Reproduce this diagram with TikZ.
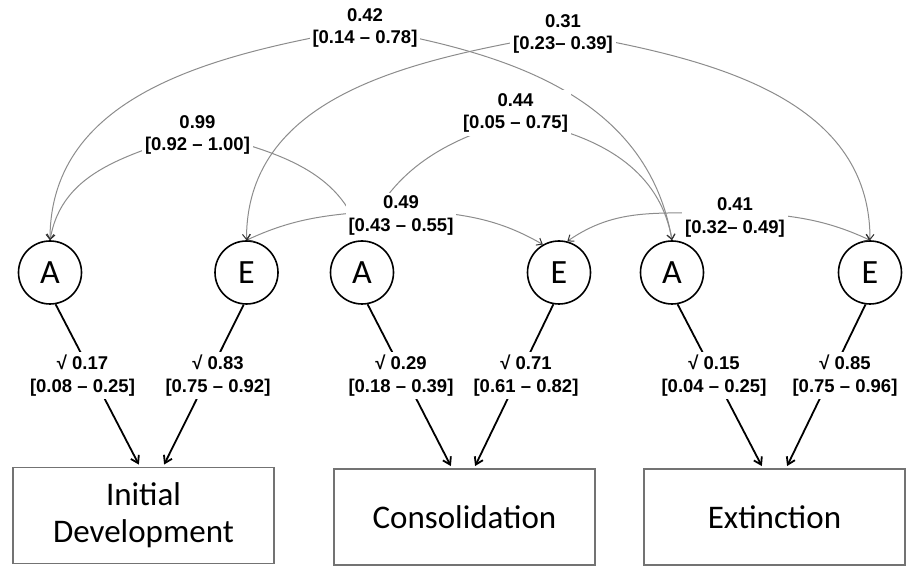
\documentclass[tikz,border=0pt]{standalone}
\usepackage{fontspec}
\setmainfont{Carlito}
\newfontfamily\numfont{Liberation Sans}
\usepackage{tikz}
\usetikzlibrary{arrows.meta}

\tikzset{
  factor/.style={circle, draw, line width=1.6bp, minimum size=63bp, inner sep=0pt, font=\fontsize{34bp}{40bp}\selectfont},
  phase/.style={draw=black!55, line width=1.4bp, minimum width=261bp, minimum height=96bp, align=center, font=\fontsize{33bp}{37bp}\selectfont},
  est/.style={fill=white, inner sep=3bp, align=center, font=\numfont\bfseries\fontsize{18.5bp}{22.5bp}\selectfont},
  corr/.style={draw=black!45, line width=1bp, >={Straight Barb[color=black!80, length=5bp, width=8bp]}, <->},
  load/.style={line width=1.8bp, >={Straight Barb[length=7bp, width=9bp]}, ->, shorten >=2.5bp}
}

\begin{document}
\begin{tikzpicture}[x=1bp, y=1bp]
\useasboundingbox (0,0) rectangle (909,566);

\node[factor] (a1) at (50,293.5) {A};
\node[factor] (e1) at (246.5,293.5) {E};
\node[factor] (a2) at (362,293.5) {A};
\node[factor] (e2) at (559,293.5) {E};
\node[factor] (a3) at (672,293.5) {A};
\node[factor] (e3) at (870,293.5) {E};

\node[phase] (b1) at (143.5,50.5) {Initial\\Development};
\node[phase] (b2) at (464.5,49) {Consolidation};
\node[phase] (b3) at (774.5,49) {Extinction};

\coordinate (k42) at (365,538);
\coordinate (k31) at (565,533);
\coordinate (k99) at (198,435);
\coordinate (k44) at (517,446);
\coordinate (k49) at (402,357);
\coordinate (k41) at (735,355);

\draw[corr] (a1.north) to[out=90,in=190] (k42) to[out=-10,in=100] (a3.north);
\draw[corr] (e1.north) to[out=90,in=190] (k31) to[out=-10,in=90] (e3.north);
\draw[corr, shorten >=10bp] (a1.north) to[out=80,in=200] (k99) to[out=-15,in=110] (a2.north);
\draw[corr, shorten <=10bp] (a2.north) to[out=65,in=195] (k44) to[out=-10,in=100] (a3.north);
\draw[corr] (e1.north) to[out=25,in=185] (k49) to[out=-5,in=150] (e2.120);
\draw[corr] (e2.75) to[out=35,in=185] (k41) to[out=-5,in=155] (e3.north);

\node[est] (l42) at (365,538) {0.42\\{[0.14 – 0.78]}};
\node[est] (l31) at (563,532) {0.31\\{[0.23– 0.39]}};
\node[est] (l99) at (197.5,431) {0.99\\{[0.92 – 1.00]}};
\node[est] (l44) at (515.5,453) {0.44\\{[0.05 – 0.75]}};
\node[est] (l49) at (401,350.5) {0.49\\{[0.43 – 0.55]}};
\node[est] (l41) at (735,348.5) {0.41\\{[0.32– 0.49]}};

\draw[load] (a1.-80) -- ([xshift=-3.5bp]b1.north);
\draw[load] (e1.-95) -- ([xshift=19.5bp]b1.north);
\draw[load] (a2.-80) -- ([xshift=-12.5bp]b2.north);
\draw[load] (e2.-100) -- ([xshift=9.5bp]b2.north);
\draw[load] (a3.-80) -- ([xshift=-11.5bp]b3.north);
\draw[load] (e3.-98) -- ([xshift=11.5bp]b3.north);

\node[est] (w1) at (82.5,190.5) {√ 0.17\\{[0.08 – 0.25]}};
\node[est] (w2) at (218,190.5) {√ 0.83\\{[0.75 – 0.92]}};
\node[est] (w3) at (401,190.5) {√ 0.29\\{[0.18 – 0.39]}};
\node[est] (w4) at (526,190.5) {√ 0.71\\{[0.61 – 0.82]}};
\node[est] (w5) at (714,190.5) {√ 0.15\\{[0.04 – 0.25]}};
\node[est] (w6) at (845,190.5) {√ 0.85\\{[0.75 – 0.96]}};

\end{tikzpicture}
\end{document}
